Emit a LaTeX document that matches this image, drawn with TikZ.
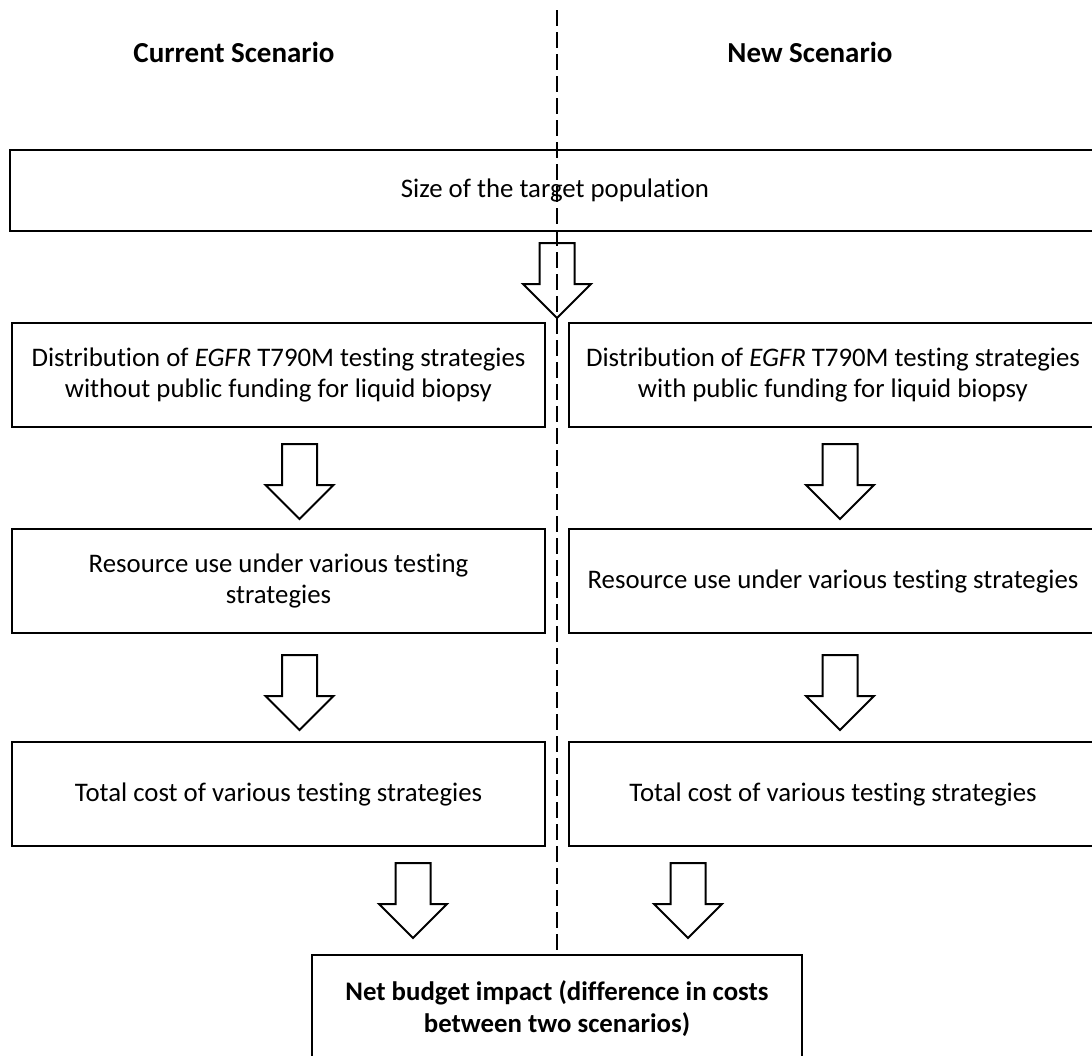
\documentclass[tikz,border=0pt]{standalone}
\usepackage{fontspec}
\setmainfont{Carlito}[Ligatures=NoCommon]
\begin{document}
\begin{tikzpicture}[x=1pt,y=-1pt,
  box/.style={draw=black, line width=2.6pt, fill=white, align=center,
    inner sep=0pt, font=\fontsize{26.8}{31}\selectfont},
  title/.style={font=\fontsize{29}{34}\selectfont\bfseries},
  arrowline/.style={draw=black, fill=white, line width=2pt, line join=miter},
  divider/.style={draw=black, line width=1.6pt, dash pattern=on 16pt off 6pt},
  downarrow/.pic={
    \path[arrowline] (-17.5,0) -- (17.5,0) -- (17.5,41) -- (34,41) -- (0,75)
      -- (-34,41) -- (-17.5,41) -- cycle;
  }]
\useasboundingbox (0,0) rectangle (1092,1055);
\clip (0,0) rectangle (1092,1055);
\fill[white] (0,0) rectangle (1092,1055);

% column headings
\node[title] (curT) at (234,52) {Current Scenario};
\node[title] (newT) at (810,52) {New Scenario};

% shared input
\node[box, minimum width=1090pt, minimum height=81pt] (pop) at (555,190.5)
  {Size of the target population};

% current scenario column
\node[box, minimum width=533pt, minimum height=104pt] (d1) at (278.5,375)
  {Distribution of \textit{EGFR} T790M testing strategies\\without public funding for liquid biopsy};
\node[box, minimum width=533pt, minimum height=104pt] (r1) at (278.5,581)
  {Resource use under various testing\\strategies};
\node[box, minimum width=533pt, minimum height=104pt] (c1) at (278.5,794)
  {Total cost of various testing strategies};

% new scenario column
\node[box, minimum width=528pt, minimum height=104pt] (d2) at (833,375)
  {Distribution of \textit{EGFR} T790M testing strategies\\with public funding for liquid biopsy};
\node[box, minimum width=528pt, minimum height=104pt] (r2) at (833,581)
  {Resource use under various testing strategies};
\node[box, minimum width=528pt, minimum height=104pt] (c2) at (833,794)
  {Total cost of various testing strategies};

% result
\node[box, minimum width=490pt, minimum height=108pt, font=\fontsize{26.8}{32}\selectfont\bfseries] (net) at (557,1009)
  {Net budget impact (difference in costs\\between two scenarios)};

% block arrows between stages
\pic at (557,243) {downarrow};
\pic at (299.5,444) {downarrow};
\pic at (840,444) {downarrow};
\pic at (299.5,655) {downarrow};
\pic at (840,655) {downarrow};
\pic at (413,863) {downarrow};
\pic at (688,863) {downarrow};

% scenario divider, drawn over the shared box and the first arrow
\coordinate (divTop) at (557,10);
\coordinate (divBot) at (557,950);
\draw[divider] (divTop) -- (divBot);
\end{tikzpicture}
\end{document}
